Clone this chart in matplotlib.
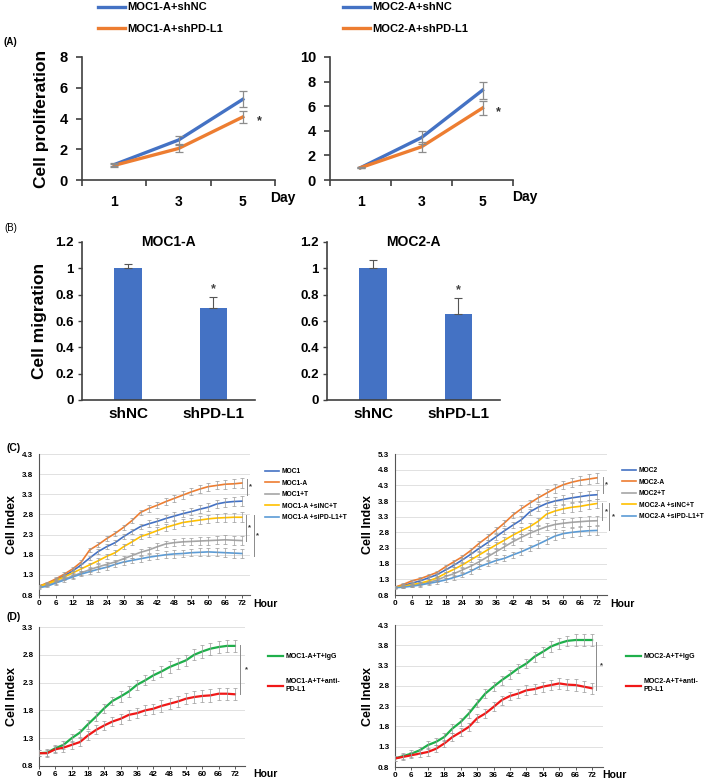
import matplotlib
matplotlib.use('Agg')
import matplotlib.pyplot as plt

plt.rcParams['font.family'] = ['Liberation Sans', 'DejaVu Sans']
plt.rcParams['font.weight'] = 'bold'
plt.rcParams['axes.labelweight'] = 'bold'
plt.rcParams['axes.titleweight'] = 'bold'

# ---------------- data ----------------
days = ['1', '3', '5']
a1_shnc = [1.0, 2.6, 5.25]
a1_shnc_err = [0.1, 0.25, 0.52]
a1_shpd = [0.95, 2.05, 4.1]
a1_shpd_err = [0.1, 0.25, 0.38]
a2_shnc = [1.0, 3.45, 7.3]
a2_shnc_err = [0.05, 0.5, 0.7]
a2_shpd = [1.0, 2.7, 5.85]
a2_shpd_err = [0.05, 0.42, 0.55]

groups = ['shNC', 'shPD-L1']
b1_vals = [1.0, 0.70]
b1_err = [0.035, 0.085]
b2_vals = [1.0, 0.65]
b2_err = [0.065, 0.125]

hours = [0, 3, 6, 9, 12, 15, 18, 21, 24, 27, 30, 33, 36, 39, 42, 45, 48, 51, 54, 57, 60, 63, 66, 69, 72]
hour_ticks = [0, 6, 12, 18, 24, 30, 36, 42, 48, 54, 60, 66, 72]

c1_labels = ['MOC1', 'MOC1-A', 'MOC1+T', 'MOC1-A +siNC+T', 'MOC1-A +siPD-L1+T']
c1_moc = [1.02, 1.08, 1.18, 1.28, 1.40, 1.55, 1.72, 1.88, 2.00, 2.10, 2.25, 2.38, 2.50, 2.57, 2.63, 2.70, 2.76, 2.82, 2.87, 2.93, 2.98, 3.06, 3.10, 3.12, 3.13]
c1_mocA = [1.02, 1.10, 1.20, 1.32, 1.45, 1.62, 1.92, 2.05, 2.20, 2.33, 2.48, 2.65, 2.85, 2.95, 3.03, 3.12, 3.20, 3.28, 3.36, 3.43, 3.49, 3.52, 3.55, 3.56, 3.58]
c1_mocT = [1.00, 1.05, 1.12, 1.20, 1.27, 1.35, 1.43, 1.50, 1.56, 1.62, 1.70, 1.78, 1.86, 1.92, 2.00, 2.07, 2.10, 2.12, 2.13, 2.14, 2.15, 2.16, 2.17, 2.16, 2.15]
c1_siNC = [1.02, 1.08, 1.16, 1.25, 1.35, 1.45, 1.55, 1.65, 1.76, 1.85, 2.00, 2.12, 2.25, 2.32, 2.40, 2.48, 2.54, 2.60, 2.63, 2.66, 2.69, 2.71, 2.72, 2.73, 2.73]
c1_siPD = [0.98, 1.02, 1.10, 1.17, 1.25, 1.32, 1.38, 1.44, 1.49, 1.56, 1.62, 1.66, 1.70, 1.74, 1.77, 1.80, 1.82, 1.83, 1.85, 1.86, 1.87, 1.86, 1.85, 1.84, 1.83]
c1_err = [0.03, 0.03, 0.04, 0.04, 0.05, 0.05, 0.05, 0.06, 0.06, 0.06, 0.07, 0.07, 0.07, 0.08, 0.08, 0.08, 0.09, 0.09, 0.09, 0.10, 0.10, 0.10, 0.11, 0.11, 0.12]

c2_labels = ['MOC2', 'MOC2-A', 'MOC2+T', 'MOC2-A +siNC+T', 'MOC2-A +siPD-L1+T']
c2_moc = [1.05, 1.10, 1.18, 1.25, 1.35, 1.45, 1.60, 1.75, 1.92, 2.10, 2.29, 2.47, 2.66, 2.85, 3.03, 3.20, 3.45, 3.60, 3.72, 3.80, 3.85, 3.90, 3.94, 3.98, 4.00]
c2_mocA = [1.05, 1.14, 1.25, 1.32, 1.42, 1.52, 1.70, 1.86, 2.02, 2.22, 2.45, 2.65, 2.87, 3.10, 3.35, 3.55, 3.73, 3.90, 4.05, 4.20, 4.32, 4.40, 4.46, 4.50, 4.54]
c2_mocT = [1.05, 1.07, 1.10, 1.15, 1.20, 1.28, 1.39, 1.48, 1.60, 1.72, 1.86, 2.02, 2.18, 2.34, 2.50, 2.64, 2.77, 2.88, 2.98, 3.05, 3.09, 3.12, 3.14, 3.16, 3.17]
c2_siNC = [1.05, 1.08, 1.13, 1.18, 1.25, 1.35, 1.49, 1.62, 1.76, 1.92, 2.08, 2.24, 2.40, 2.55, 2.71, 2.85, 2.98, 3.15, 3.38, 3.48, 3.55, 3.60, 3.63, 3.68, 3.72]
c2_siPD = [1.03, 1.05, 1.08, 1.12, 1.17, 1.22, 1.28, 1.36, 1.44, 1.56, 1.70, 1.80, 1.90, 1.97, 2.08, 2.18, 2.30, 2.42, 2.55, 2.68, 2.76, 2.80, 2.83, 2.85, 2.86]
c2_err = [0.03, 0.04, 0.04, 0.05, 0.05, 0.06, 0.06, 0.07, 0.07, 0.08, 0.08, 0.09, 0.09, 0.10, 0.10, 0.11, 0.11, 0.12, 0.12, 0.13, 0.13, 0.14, 0.14, 0.15, 0.15]

d1_labels = ['MOC1-A+T+IgG', 'MOC1-A+T+anti-\nPD-L1']
d1_igg = [1.03, 1.04, 1.12, 1.18, 1.30, 1.40, 1.55, 1.69, 1.84, 1.97, 2.05, 2.14, 2.26, 2.34, 2.43, 2.50, 2.58, 2.64, 2.70, 2.80, 2.86, 2.91, 2.94, 2.96, 2.96]
d1_anti = [1.03, 1.03, 1.10, 1.13, 1.18, 1.23, 1.35, 1.45, 1.53, 1.60, 1.65, 1.72, 1.75, 1.80, 1.83, 1.88, 1.92, 1.96, 2.01, 2.04, 2.06, 2.07, 2.10, 2.10, 2.09]
d1_err = [0.05, 0.06, 0.06, 0.07, 0.07, 0.07, 0.08, 0.08, 0.08, 0.08, 0.09, 0.09, 0.09, 0.09, 0.09, 0.10, 0.10, 0.10, 0.10, 0.10, 0.11, 0.11, 0.11, 0.11, 0.11]

d2_labels = ['MOC2-A+T+IgG', 'MOC2-A+T+anti-\nPD-L1']
d2_igg = [1.01, 1.07, 1.13, 1.21, 1.34, 1.42, 1.54, 1.75, 1.91, 2.12, 2.37, 2.61, 2.78, 2.94, 3.08, 3.23, 3.35, 3.52, 3.64, 3.77, 3.85, 3.91, 3.93, 3.93, 3.93]
d2_anti = [1.01, 1.05, 1.09, 1.13, 1.17, 1.25, 1.38, 1.54, 1.66, 1.79, 2.00, 2.12, 2.28, 2.45, 2.55, 2.61, 2.69, 2.72, 2.78, 2.82, 2.86, 2.83, 2.82, 2.78, 2.74]
d2_err = [0.06, 0.07, 0.08, 0.08, 0.09, 0.09, 0.09, 0.10, 0.10, 0.10, 0.10, 0.11, 0.11, 0.11, 0.11, 0.12, 0.12, 0.12, 0.12, 0.13, 0.13, 0.13, 0.14, 0.14, 0.14]

# ---------------- styling ----------------
BLUE = '#4472C4'
ORANGE = '#ED7D31'
GRAY = '#A5A5A5'
YELLOW = '#FFC000'
LBLUE = '#5B9BD5'
GREEN = '#1FAF4B'
RED = '#F01818'
AXC = '#404040'
ERRC = '#9a9a9a'

W, H = 709, 782
fig = plt.figure(figsize=(W / 100, H / 100), dpi=100)


def ax_px(x0, y0, x1, y1):
    return fig.add_axes([x0 / W, 1 - y1 / H, (x1 - x0) / W, (y1 - y0) / H])


def ftext(x, y, s, **kw):
    fig.text(x / W, 1 - y / H, s, **kw)


# ---------------- Panel A ----------------
def panel_a(box, s1, e1, s2, e2, ymax, labels, leg_x, star_dx):
    ax = ax_px(*box)
    xs = list(range(len(days)))
    h1, = ax.plot(xs, s1, color=BLUE, lw=2.4, label=labels[0], zorder=3)
    h2, = ax.plot(xs, s2, color=ORANGE, lw=2.4, label=labels[1], zorder=3)
    ax.errorbar(xs, s1, yerr=e1, fmt='none', ecolor='#8c8c8c',
                elinewidth=0.9, capsize=3, capthick=0.9, zorder=4)
    ax.errorbar(xs, s2, yerr=e2, fmt='none', ecolor='#8c8c8c',
                elinewidth=0.9, capsize=3, capthick=0.9, zorder=4)
    ax.set_xlim(-0.5, len(days) - 0.5)
    ax.set_ylim(0, ymax)
    ax.set_yticks(list(range(0, ymax + 1, 2)))
    ax.set_xticks(xs)
    ax.set_xticklabels(days)
    ax.set_xticks([-0.5, 0.5, 1.5, 2.5], minor=True)
    ax.tick_params(axis='x', which='major', length=0, pad=11, labelsize=10)
    ax.tick_params(axis='x', which='minor', length=4, width=1.2, color=AXC, direction='out')
    ax.tick_params(axis='y', length=4, width=1.2, color=AXC, pad=6, labelsize=10.5)
    for sp in ['top', 'right']:
        ax.spines[sp].set_visible(False)
    for sp in ['left', 'bottom']:
        ax.spines[sp].set_color(AXC)
        ax.spines[sp].set_linewidth(1.2)
    ax.annotate('*', xy=(xs[-1], s2[-1]), xytext=(star_dx, -3), textcoords='offset points',
                fontsize=9, va='center', ha='left', color='#333333')
    ax.legend(handles=[h1, h2], loc='upper left', bbox_to_anchor=(leg_x / W, 1 - 2.5 / H),
              bbox_transform=fig.transFigure, frameon=False, fontsize=8,
              handlelength=2.4, handletextpad=0.2, labelspacing=1.0,
              borderpad=0, borderaxespad=0)
    return ax


axA1 = panel_a((82, 57, 275, 180), a1_shnc, a1_shnc_err, a1_shpd, a1_shpd_err, 8,
               ['MOC1-A+shNC', 'MOC1-A+shPD-L1'], 98, 10)
axA1.set_ylabel('Cell proliferation', fontsize=12.5, labelpad=8)
axA2 = panel_a((330, 57, 513, 180), a2_shnc, a2_shnc_err, a2_shpd, a2_shpd_err, 10,
               ['MOC2-A+shNC', 'MOC2-A+shPD-L1'], 343, 10)
ftext(270, 198, 'Day', fontsize=10, va='center', ha='left')
ftext(512, 197, 'Day', fontsize=10, va='center', ha='left')
ftext(4, 42, '(A)', fontsize=7, va='center', ha='left')


# ---------------- Panel B ----------------
def panel_b(box, vals, errs, title):
    ax = ax_px(*box)
    xs = list(range(len(groups)))
    ax.bar(xs, vals, width=0.32, color=BLUE, zorder=2)
    ax.errorbar(xs, vals, yerr=[[0] * len(errs), errs], fmt='none', ecolor='#555555',
                elinewidth=0.8, capsize=3, capthick=0.8, zorder=3)
    ax.annotate('*', xy=(xs[1], vals[1] + errs[1]), xytext=(0, 1), textcoords='offset points',
                ha='center', va='bottom', fontsize=9, color='#444444')
    ax.set_xlim(-0.54, 1.49)
    ax.set_ylim(0, 1.2)
    ax.set_yticks([0, 0.2, 0.4, 0.6, 0.8, 1.0, 1.2])
    ax.set_yticklabels(['0', '0.2', '0.4', '0.6', '0.8', '1', '1.2'])
    ax.set_xticks(xs)
    ax.set_xticklabels(groups)
    ax.tick_params(axis='x', length=0, pad=5, labelsize=11)
    ax.tick_params(axis='y', length=3, width=1, color=AXC, pad=3, labelsize=9.5)
    for sp in ['top', 'right']:
        ax.spines[sp].set_visible(False)
    for sp in ['left', 'bottom']:
        ax.spines[sp].set_color(AXC)
        ax.spines[sp].set_linewidth(1.2)
    ax.set_title(title, fontsize=10, pad=-3, y=1.0)
    return ax


axB1 = panel_b((82, 242, 255, 400), b1_vals, b1_err, 'MOC1-A')
axB1.set_ylabel('Cell migration', fontsize=12.5, labelpad=6)
axB2 = panel_b((327, 242, 500, 400), b2_vals, b2_err, 'MOC2-A')
ftext(4, 228, '(B)', fontsize=7, va='center', ha='left', fontweight='normal')


# ---------------- Panels C / D ----------------
def time_axes(box, xmax, ylo, yhi, ystep_labels):
    ax = ax_px(*box)
    ax.set_xlim(0, xmax)
    ax.set_ylim(ylo, yhi)
    ax.set_yticks(ystep_labels)
    ax.set_yticklabels(['%.1f' % v for v in ystep_labels])
    ax.set_xticks(hour_ticks)
    ax.tick_params(axis='x', length=2, width=0.6, color=AXC, pad=1.5, labelsize=5.8)
    ax.tick_params(axis='y', length=0, pad=4, labelsize=5.8)
    ax.grid(axis='y', color='#dcdcdc', lw=0.6)
    ax.set_axisbelow(True)
    for sp in ['top', 'right']:
        ax.spines[sp].set_visible(False)
    for sp in ['left', 'bottom']:
        ax.spines[sp].set_color('#555555')
        ax.spines[sp].set_linewidth(0.8)
    return ax


def series(ax, vals, err, color, label, lw=1.2):
    h, = ax.plot(hours, vals, color=color, lw=lw, label=label, zorder=3)
    ax.errorbar(hours, vals, yerr=err, fmt='none', ecolor=ERRC,
                elinewidth=0.5, capsize=1.3, capthick=0.5, zorder=4)
    return h


def sig(ax, xh, top, bottom, xstar, fs=5.5):
    ax.plot([xh, xh], [top, bottom], color='#8a8a8a', lw=0.7, clip_on=False)
    ax.text(xstar, (top + bottom) / 2, '*', fontsize=fs, ha='center', va='center',
            color='#333333', clip_on=False)


def time_legend(ax, handles, lx, ly, fs, spacing):
    ax.legend(handles=handles, loc='upper left', bbox_to_anchor=(lx / W, 1 - ly / H),
              bbox_transform=fig.transFigure, frameon=False, fontsize=fs,
              handlelength=2.1, handletextpad=0.4, labelspacing=spacing,
              borderpad=0, borderaxespad=0)


c_ticks1 = [0.8, 1.3, 1.8, 2.3, 2.8, 3.3, 3.8, 4.3]
axC1 = time_axes((39, 454, 250, 595), 74.8, 0.8, 4.3, c_ticks1)
hc1 = [series(axC1, c1_moc, c1_err, BLUE, c1_labels[0]),
       series(axC1, c1_mocA, c1_err, ORANGE, c1_labels[1]),
       series(axC1, c1_mocT, c1_err, GRAY, c1_labels[2]),
       series(axC1, c1_siNC, c1_err, YELLOW, c1_labels[3]),
       series(axC1, c1_siPD, c1_err, LBLUE, c1_labels[4])]
sig(axC1, 73.8, c1_mocA[-1] + 0.1, c1_moc[-1] + 0.15, 74.9)
sig(axC1, 73.4, c1_siNC[-1] + 0.05, c1_mocT[-1], 74.6)
sig(axC1, 76.2, c1_siNC[-1] + 0.05, c1_siPD[-1] - 0.05, 77.4)
axC1.set_ylabel('Cell Index', fontsize=9, labelpad=3)
time_legend(axC1, hc1, 265, 468, 4.8, 0.68)
ftext(253, 604, 'Hour', fontsize=7.5, va='center', ha='left')
ftext(6, 448, '(C)', fontsize=7.5, va='center', ha='left')

c_ticks2 = [0.8, 1.3, 1.8, 2.3, 2.8, 3.3, 3.8, 4.3, 4.8, 5.3]
axC2 = time_axes((395, 454, 607, 595), 75.55, 0.8, 5.3, c_ticks2)
hc2 = [series(axC2, c2_moc, c2_err, BLUE, c2_labels[0]),
       series(axC2, c2_mocA, c2_err, ORANGE, c2_labels[1]),
       series(axC2, c2_mocT, c2_err, GRAY, c2_labels[2]),
       series(axC2, c2_siNC, c2_err, YELLOW, c2_labels[3]),
       series(axC2, c2_siPD, c2_err, LBLUE, c2_labels[4])]
sig(axC2, 74.1, c2_mocA[-1] + 0.03, c2_moc[-1] + 0.06, 75.5)
sig(axC2, 73.8, c2_siNC[-1] + 0.02, c2_mocT[-1] + 0.02, 75.2)
sig(axC2, 76.3, c2_siNC[-1] + 0.02, c2_siPD[-1], 78.0)
axC2.set_ylabel('Cell Index', fontsize=9, labelpad=3)
time_legend(axC2, hc2, 622, 467, 4.8, 0.68)
ftext(610, 604, 'Hour', fontsize=7.5, va='center', ha='left')

d_ticks1 = [0.8, 1.3, 1.8, 2.3, 2.8, 3.3]
axD1 = time_axes((39, 627, 245, 766), 75.7, 0.8, 3.3, d_ticks1)
hd1 = [series(axD1, d1_igg, d1_err, GREEN, d1_labels[0], lw=1.6),
       series(axD1, d1_anti, d1_err, RED, d1_labels[1], lw=1.6)]
sig(axD1, 73.9, d1_igg[-1] + 0.02, d1_anti[-1], 76.1)
axD1.set_ylabel('Cell Index', fontsize=9, labelpad=3)
time_legend(axD1, hd1, 268, 653, 5, 2.6)
ftext(253, 774, 'Hour', fontsize=7.5, va='center', ha='left')
ftext(6, 617, '(D)', fontsize=7.5, va='center', ha='left')

d_ticks2 = [0.8, 1.3, 1.8, 2.3, 2.8, 3.3, 3.8, 4.3]
axD2 = time_axes((395, 625, 603, 767), 76.0, 0.8, 4.3, d_ticks2)
hd2 = [series(axD2, d2_igg, d2_err, GREEN, d2_labels[0], lw=1.6),
       series(axD2, d2_anti, d2_err, RED, d2_labels[1], lw=1.6)]
sig(axD2, 73.4, d2_igg[-1] - 0.05, d2_anti[-1] - 0.04, 75.5)
axD2.set_ylabel('Cell Index', fontsize=9, labelpad=3)
time_legend(axD2, hd2, 626, 653, 5, 2.6)
ftext(602, 775, 'Hour', fontsize=7.5, va='center', ha='left')

fig.savefig('out.png', dpi=100)
